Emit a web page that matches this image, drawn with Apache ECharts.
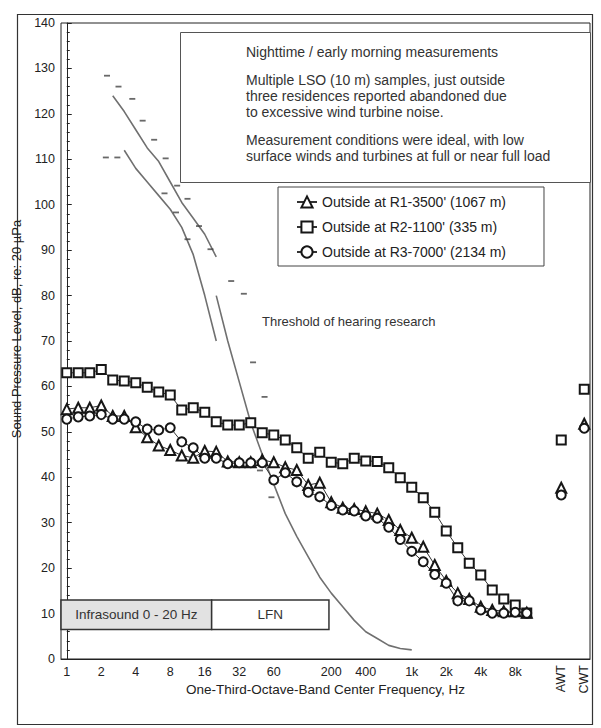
<!DOCTYPE html>
<html><head><meta charset="utf-8">
<script src="https://cdn.jsdelivr.net/npm/echarts@6/dist/echarts.min.js"></script>
<style>html,body{margin:0;padding:0;background:#fff}#c{width:601px;height:728px}</style>
</head><body><div id="c"></div>
<script>
// one-third-octave band centres (Hz)
const bands = ['1','1.25','1.6','2','2.5','3.15','4','5','6.3','8','10','12.5','16','20','25','31.5','40','50','63','80','100','125','160','200','250','315','400','500','630','800','1k','1.25k','1.6k','2k','2.5k','3.15k','4k','5k','6.3k','8k','10k'];
const weighted = ['AWT','CWT'];
const xTickBands  = ['1','2','4','8','16','31.5','63','200','400','1k','2k','4k','8k'];
const xTickLabels = ['1','2','4','8','16','32','60','200','400','1k','2k','4k','8k'];

const r1Name = "Outside at R1-3500' (1067 m)";
const r2Name = "Outside at R2-1100' (335 m)";
const r3Name = "Outside at R3-7000' (2134 m)";

const r1Bands = [55,55.3,55.3,55.8,53.5,53.5,51,48.8,47,46, 44.8,44.3,45.8,45.6,43.5,43.3,43.3,43.8,43.3,42.2, 41.6,38.3,38.8,34.5,33.3,33,32.5,32,30.6,28.4, 26.7,24.7,20.7,17.2,14.5,13.2,11.5,10.8,10.5,10.5, 10.2];
const r2Bands = [63,63,63,63.7,61.4,61.2,60.8,59.8,58.8,58.1, 54.8,55.3,54.3,52.2,51.5,51.5,52,49.8,49.3,48.2, 46.5,44.2,45.5,43.3,43,44.2,43.6,43.5,42.1,39.9, 37.8,35.5,32.3,28.2,24.5,21.1,18.5,15.2,13.2,11.9, 10.1];
const r3Bands = [52.8,53.3,53.5,53.8,52.8,52.8,52.2,50.6,50.4,50.9, 47.8,46.5,44.2,44.2,43,43.2,43.2,43.2,39.4,41, 39,36.7,35.7,33.8,32.8,32.6,31.5,31,29,26.3, 23.7,21.4,18.6,16.7,12.8,12.8,10.8,10.1,10.1,10.3, 10.1];
const r1Weighted = [37.7, 51.8];
const r2Weighted = [48.2, 59.4];
const r3Weighted = [36.1, 50.8];

// threshold of hearing curves
const thrABands = ['2.5','3.15','4','5','6.3','8','10','12.5','16','20'];
const thrAValues = [124,120.5,116.5,112.5,109.5,105,100.5,97,93.5,88.5];
const thrBBands = ['3.15','4','5','6.3','8','10','12.5','16','20'];
const thrBValues = [112,108,105,102,99,95,89,80,70];
const thrCBands = ['20','25','31.5','40','50','63','80','100','125','160','200','250','315','400','500','630','800','1k'];
const thrCValues = [80,70,61,52,45,38.5,32,27,22.5,18,14.5,11.5,8.5,6,4.5,3,2.3,2];

// individual threshold research points: [band position (0 = 1 Hz, 1 per third octave), dB]
const researchPoints = [[3.5,128.4],[4.5,126],[5.7,123.3],[6.6,118.5],[7.6,114.3],[8.6,110.2],[3.4,110.4],[4.4,110.4],[9.6,104.2],[8.5,102.5],[10.5,101.3],[9.5,98.3],[11.5,95.3],[10.5,92.4],[12.5,90.2],[14.3,83.2],[15.4,80.4],[16.2,65.3],[17.2,57.7],[16.8,41.5],[17.8,35.6]];

// frequency regions (band positions) and their label
const regions = [
  {name:'Infrasound 0 - 20 Hz', from:-0.5, to:12.6, fill:'#e2e2e2'},
  {name:'LFN', from:12.6, to:22.8, fill:'#ffffff'}
];
const regionLevels = [6.5, 13];

const categories = bands.concat([' ', '  ', 'AWT', '   ', 'CWT']);
function full(b, w){ return b.concat([null, null, w[0], null, w[1]]); }
function place(bs, vs){ const m = {}; bs.forEach((b,i)=>m[b]=vs[i]); return categories.map(c => (c in m) ? m[c] : null); }
const labelMap = {}; xTickBands.forEach((b,i)=>labelMap[b]=xTickLabels[i]);

const FONT = "'Liberation Sans', Arial, sans-serif";
const chart = echarts.init(document.getElementById('c'), null, {renderer:'svg'});

const markerSeries = (name, data, symbol, size) => ({
  name, type:'line', data, symbol, symbolSize:size, showAllSymbol:true, z:5,
  lineStyle:{color:'#333', width:1}, itemStyle:{color:'#161616', borderWidth:1.6}
});
const curve = (data) => ({type:'line', data, symbol:'none', silent:true, z:3, lineStyle:{color:'#707070', width:1.6}});
const note = (text, top, size) => ({type:'text', left:246, top, z:2, style:{text, fontSize:size, fill:'#333', fontFamily:FONT}});

chart.setOption({
  backgroundColor:'#fff',
  textStyle:{fontFamily:FONT},
  animation:false,
  grid:{left:61, right:11, top:23, bottom:69, show:true, borderColor:'#222', borderWidth:1},
  legend:{
    data:[r1Name, r2Name, r3Name], orient:'vertical', left:278, top:187,
    padding:[8,38,7,18], itemGap:11, itemWidth:20, itemHeight:14,
    borderColor:'#444', borderWidth:1, backgroundColor:'#fff',
    textStyle:{fontSize:14, color:'#222', fontFamily:FONT}
  },
  xAxis:[
    {type:'category', data:categories, boundaryGap:true,
     axisLine:{lineStyle:{color:'#222', width:1}}, axisTick:{show:false},
     axisLabel:{interval:0, formatter:v => labelMap[v] || '', fontSize:12.5, color:'#222', margin:6},
     name:'One-Third-Octave-Band Center Frequency, Hz', nameLocation:'middle', nameGap:23,
     nameTextStyle:{fontSize:13.5, color:'#222'}},
    {type:'value', min:-0.5, max:45.5, show:false},
    {type:'category', data:categories, boundaryGap:true, position:'bottom',
     axisLine:{show:false}, axisTick:{show:false}, splitLine:{show:false},
     axisLabel:{interval:0, rotate:90, formatter:v => weighted.includes(v) ? v : '', fontSize:12.5, color:'#222', margin:6}}
  ],
  yAxis:{type:'value', min:0, max:140, interval:10,
    axisLine:{show:true, lineStyle:{color:'#222', width:1}},
    axisTick:{show:true, inside:true, length:5, lineStyle:{color:'#222'}},
    minorTick:{show:true, splitNumber:5, length:3, lineStyle:{color:'#222'}},
    splitLine:{show:false},
    axisLabel:{fontSize:12.5, color:'#222', margin:6},
    name:'Sound Pressure Level, dB, re: 20 µPa', nameLocation:'middle', nameGap:24,
    nameTextStyle:{fontSize:13, color:'#222', padding:[0,0,0,24]}},
  series:[
    curve(place(thrABands, thrAValues)),
    curve(place(thrBBands, thrBValues)),
    curve(place(thrCBands, thrCValues)),
    markerSeries(r1Name, full(r1Bands, r1Weighted), 'emptyTriangle', 10),
    markerSeries(r2Name, full(r2Bands, r2Weighted), 'emptyRect', 9),
    markerSeries(r3Name, full(r3Bands, r3Weighted), 'emptyCircle', 9),
    {type:'scatter', xAxisIndex:1, data:researchPoints, symbol:'rect', symbolSize:[6,1.8],
     itemStyle:{color:'#444'}, silent:true, z:4,
     markArea:{silent:true,
       data: regions.map(r => [
         {xAxis:r.from, yAxis:regionLevels[0], name:r.name, itemStyle:{color:r.fill, borderColor:'#333', borderWidth:1.5}},
         {xAxis:r.to, yAxis:regionLevels[1]}]),
       label:{show:true, position:'inside', fontSize:13.5, color:'#333', fontFamily:FONT}}
    }
  ],
  graphic:[
    {type:'rect', left:15, top:12, z:-10, shape:{width:575, height:710}, style:{fill:'none', stroke:'#333', lineWidth:1.2}},
    {type:'rect', left:180, top:32, z:1, shape:{width:410, height:150}, style:{fill:'#fff', stroke:'#555', lineWidth:1}},
    note('Nighttime / early morning measurements', 45, 14),
    note('Multiple LSO (10 m) samples, just outside', 73, 14),
    note('three residences reported abandoned due', 89, 14),
    note('to excessive wind turbine noise.', 105, 14),
    note('Measurement conditions were ideal, with low', 133, 14),
    note('surface winds and turbines at full or near full load', 149, 14),
    {type:'text', left:262, top:315, z:2, style:{text:'Threshold of hearing research', fontSize:13, fill:'#333', fontFamily:FONT}}
  ]
});
</script></body></html>
